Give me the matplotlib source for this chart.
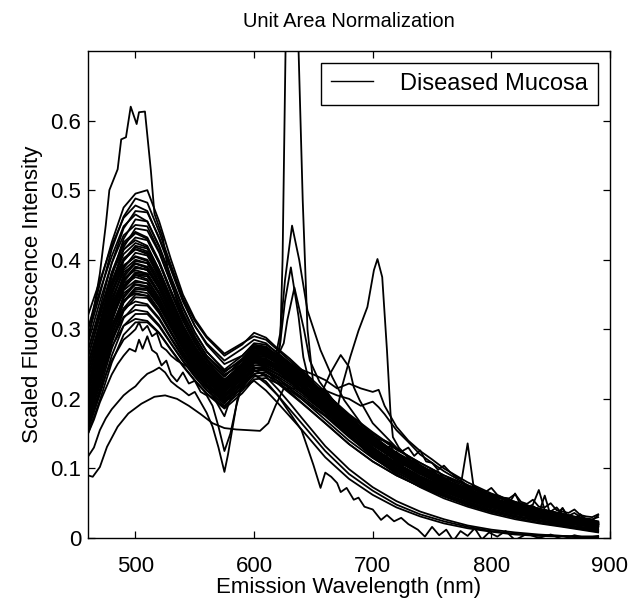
import matplotlib
matplotlib.use("Agg")
import matplotlib.pyplot as plt

plt.rcParams['font.family'] = ['Liberation Sans', 'DejaVu Sans']

# shared wavelength grid (nm) for the bulk of the spectra
wl = [460, 470, 480, 490, 500, 510, 520, 530, 540, 550, 560, 575, 590, 600, 610,
      620, 630, 640, 660, 680, 700, 720, 740, 760, 780, 800, 820, 840, 860, 875, 890]

# bulk spectra, scaled intensity x 1000
s01 = [300, 365, 425, 475, 495, 500, 455, 400, 350, 315, 290, 265, 280, 290, 285, 270, 255, 240, 205, 170, 140, 118, 98, 82, 68, 56, 46, 38, 31, 26, 22]
s02 = [290, 350, 415, 462, 488, 482, 440, 392, 345, 312, 288, 262, 278, 295, 288, 272, 258, 242, 210, 175, 145, 120, 103, 83, 71, 57, 49, 38, 33, 27, 22]
s03 = [320, 370, 420, 460, 478, 470, 430, 385, 340, 305, 280, 255, 272, 285, 280, 265, 250, 235, 200, 168, 138, 115, 95, 79, 65, 54, 44, 36, 30, 25, 20]
s04 = [270, 330, 395, 445, 470, 468, 432, 388, 342, 305, 278, 250, 262, 278, 275, 262, 248, 232, 200, 165, 136, 116, 94, 80, 64, 55, 44, 37, 29, 24, 20]
s05 = [300, 355, 405, 448, 465, 455, 418, 372, 330, 295, 268, 242, 262, 280, 278, 266, 252, 238, 206, 172, 148, 120, 104, 80, 72, 55, 49, 37, 33, 25, 22]
s06 = [250, 310, 375, 430, 458, 455, 420, 375, 332, 296, 268, 240, 255, 272, 270, 258, 244, 230, 198, 163, 134, 111, 92, 76, 63, 52, 43, 35, 28, 23, 19]
s07 = [280, 340, 395, 435, 450, 448, 412, 366, 322, 288, 262, 238, 258, 276, 275, 262, 248, 233, 203, 170, 141, 118, 98, 82, 67, 56, 46, 38, 31, 26, 21]
s08 = [230, 290, 360, 418, 445, 442, 410, 366, 324, 290, 262, 235, 250, 268, 266, 255, 242, 228, 196, 162, 128, 106, 86, 71, 58, 47, 38, 31, 25, 20, 15]
s09 = [260, 320, 382, 425, 440, 432, 398, 356, 316, 283, 258, 232, 255, 274, 272, 260, 246, 232, 202, 168, 140, 117, 97, 81, 67, 55, 45, 37, 30, 25, 20]
s10 = [240, 300, 368, 414, 432, 428, 395, 352, 312, 280, 254, 228, 248, 266, 264, 252, 239, 224, 192, 158, 130, 108, 89, 74, 61, 50, 41, 34, 28, 23, 18]
s11 = [270, 325, 380, 415, 428, 420, 385, 345, 306, 275, 250, 226, 252, 272, 272, 261, 248, 235, 208, 178, 152, 128, 108, 90, 76, 62, 52, 42, 35, 29, 24]
s12 = [220, 282, 350, 400, 420, 416, 384, 342, 304, 272, 247, 222, 243, 262, 261, 250, 237, 223, 192, 158, 130, 107, 88, 73, 60, 49, 40, 33, 27, 22, 18]
s13 = [250, 305, 365, 402, 415, 408, 376, 337, 300, 270, 246, 222, 248, 268, 268, 257, 245, 232, 203, 170, 142, 119, 95, 86, 66, 59, 44, 40, 29, 27, 20]
s14 = [210, 270, 338, 388, 410, 406, 375, 335, 298, 267, 242, 218, 240, 260, 258, 247, 234, 220, 190, 156, 124, 100, 80, 64, 51, 40, 32, 25, 19, 15, 11]
s15 = [240, 296, 355, 392, 404, 398, 368, 330, 295, 265, 242, 219, 246, 266, 266, 256, 244, 231, 203, 171, 143, 120, 100, 83, 69, 57, 47, 38, 31, 26, 21]
s16 = [200, 262, 330, 378, 398, 395, 366, 328, 293, 263, 240, 216, 238, 258, 256, 246, 233, 220, 190, 157, 129, 107, 88, 73, 60, 49, 40, 33, 27, 22, 18]
s17 = [230, 288, 345, 382, 394, 388, 360, 324, 290, 261, 239, 216, 244, 265, 265, 255, 243, 230, 205, 176, 150, 127, 108, 90, 75, 62, 51, 42, 34, 28, 23]
s18 = [195, 255, 320, 368, 388, 386, 358, 322, 288, 260, 237, 214, 236, 256, 255, 245, 232, 219, 189, 156, 128, 106, 88, 72, 59, 49, 40, 33, 27, 22, 18]
s19 = [220, 278, 336, 373, 385, 380, 353, 318, 285, 257, 235, 213, 242, 263, 264, 254, 242, 229, 201, 169, 142, 119, 99, 83, 69, 57, 47, 38, 31, 26, 21]
s20 = [185, 245, 310, 358, 378, 376, 350, 315, 282, 255, 232, 210, 232, 252, 252, 242, 230, 217, 188, 155, 122, 98, 78, 62, 49, 39, 31, 24, 18, 14, 10]
s21 = [210, 268, 326, 363, 375, 370, 345, 311, 279, 252, 231, 209, 238, 260, 261, 251, 240, 227, 199, 167, 140, 122, 96, 86, 65, 60, 43, 41, 28, 28, 19]
s22 = [178, 236, 300, 348, 368, 366, 342, 309, 277, 250, 228, 206, 228, 248, 248, 239, 227, 214, 186, 154, 126, 104, 86, 71, 58, 48, 39, 32, 26, 21, 17]
s23 = [200, 258, 316, 352, 364, 360, 336, 304, 274, 248, 227, 205, 234, 256, 257, 248, 237, 225, 199, 170, 145, 123, 104, 87, 73, 61, 50, 41, 34, 28, 23]
s24 = [170, 228, 290, 338, 358, 356, 333, 302, 272, 246, 225, 203, 224, 244, 245, 236, 224, 212, 184, 152, 124, 103, 85, 70, 57, 47, 38, 31, 25, 21, 17]
s25 = [195, 250, 306, 342, 352, 348, 326, 296, 268, 243, 222, 201, 230, 252, 254, 245, 234, 222, 195, 164, 137, 115, 96, 80, 66, 54, 44, 36, 30, 25, 20]
s26 = [165, 220, 280, 326, 346, 345, 323, 294, 266, 241, 221, 199, 220, 240, 241, 232, 221, 209, 182, 150, 118, 95, 76, 60, 47, 37, 29, 22, 17, 13, 9]
s27 = [185, 240, 295, 330, 340, 336, 316, 288, 262, 238, 218, 197, 226, 248, 250, 242, 231, 219, 193, 162, 136, 110, 98, 76, 68, 51, 46, 33, 31, 22, 21]
s28 = [160, 214, 272, 316, 335, 334, 314, 286, 259, 236, 216, 195, 216, 236, 238, 229, 218, 206, 180, 149, 122, 101, 83, 68, 56, 46, 37, 30, 25, 20, 16]
s29 = [180, 232, 285, 318, 328, 325, 306, 280, 255, 233, 213, 193, 222, 244, 247, 239, 228, 217, 191, 161, 135, 113, 94, 78, 65, 53, 44, 36, 29, 24, 19]
s30 = [155, 206, 262, 305, 322, 322, 304, 279, 254, 232, 212, 190, 212, 232, 234, 226, 215, 203, 177, 147, 116, 92, 73, 57, 45, 35, 27, 21, 16, 12, 8]
s31 = [175, 225, 275, 305, 315, 312, 295, 271, 248, 227, 208, 188, 218, 240, 243, 235, 225, 214, 189, 159, 133, 112, 93, 77, 64, 53, 43, 35, 29, 24, 19]
s32 = [150, 198, 252, 292, 310, 310, 294, 270, 247, 226, 207, 186, 208, 228, 230, 222, 212, 200, 175, 145, 118, 97, 80, 66, 54, 44, 36, 29, 24, 19, 15]

# spectra whose red tail falls off faster (same grid)
f01 = [200, 258, 318, 356, 370, 366, 340, 306, 274, 247, 226, 204, 222, 235, 222, 205, 185, 165, 125, 92, 68, 48, 34, 24, 16, 10, 6, 4, 3, 2, 2]
f02 = [185, 242, 300, 340, 355, 352, 328, 296, 266, 240, 220, 198, 215, 226, 212, 194, 175, 156, 116, 85, 62, 44, 31, 21, 14, 9, 5, 3, 2, 1, 1]
f03 = [215, 272, 330, 366, 378, 372, 345, 310, 278, 250, 229, 207, 228, 242, 232, 214, 194, 173, 132, 99, 73, 53, 38, 27, 18, 12, 8, 5, 3, 2, 2]

# noisy spectra: coarse in the blue, 5 nm steps in the red tail
wl_noisy = [460, 470, 480, 490, 500, 510, 520, 530, 540, 550, 560, 575, 590, 600, 610, 620, 630, 640, 660, 680, 700,
            705, 710, 715, 720, 725, 730, 735, 740, 745, 750, 755, 760, 765, 770, 775, 780, 785, 790, 795,
            800, 805, 810, 815, 820, 825, 830, 835, 840, 845, 850, 855, 860, 865, 870, 875, 880, 885, 890]
n01 = [260, 318, 380, 422, 438, 430, 396, 354, 314, 282, 257, 232, 256, 275, 273, 262, 250, 236, 206, 172, 146,
       142, 140, 136, 128, 125, 130, 118, 126, 110, 108, 98, 104, 95, 88, 84, 136, 74, 70, 66,
       72, 62, 58, 57, 63, 52, 49, 55, 45, 44, 50, 40, 38, 36, 41, 33, 31, 30, 34]
n02 = [230, 290, 352, 398, 418, 412, 380, 340, 302, 272, 248, 224, 246, 266, 265, 254, 242, 228, 198, 165, 138,
       134, 128, 132, 118, 116, 110, 112, 100, 98, 94, 96, 86, 84, 80, 82, 74, 70, 66, 62,
       60, 58, 57, 50, 64, 46, 44, 48, 69, 40, 38, 44, 34, 32, 36, 30, 28, 27, 30]
n03 = [190, 250, 314, 362, 382, 380, 352, 318, 285, 257, 234, 212, 234, 254, 254, 244, 232, 219, 190, 157, 130,
       124, 118, 121, 110, 104, 106, 96, 92, 94, 84, 80, 82, 74, 70, 72, 64, 62, 66, 56,
       52, 55, 48, 46, 44, 47, 40, 38, 36, 61, 32, 30, 43, 27, 25, 34, 22, 21, 23]
n04 = [170, 228, 292, 340, 360, 358, 334, 302, 272, 246, 225, 203, 224, 244, 244, 235, 224, 212, 184, 152, 125,
       118, 112, 108, 104, 98, 94, 90, 84, 82, 78, 72, 70, 64, 62, 58, 60, 52, 50, 46,
       44, 48, 40, 37, 35, 40, 31, 29, 27, 30, 24, 22, 21, 19, 23, 16, 15, 14, 12]
n05 = [250, 305, 368, 408, 424, 418, 385, 345, 306, 276, 251, 227, 250, 270, 269, 258, 245, 231, 200, 166, 138,
       132, 126, 122, 124, 114, 108, 110, 102, 96, 98, 90, 84, 86, 78, 74, 70, 76, 64, 60,
       58, 54, 52, 56, 48, 45, 43, 46, 40, 38, 36, 34, 43, 30, 28, 34, 26, 25, 33]

# individual spectra read point by point (intensity as read)
wl_high = [460, 465, 470, 475, 478, 485, 488, 492, 496, 501, 503, 508, 513, 516, 523, 527, 535, 545, 555, 565,
           575, 590, 600, 610, 620, 630, 640, 660, 680, 700, 720, 740, 760, 780, 800, 820, 840, 860, 875, 890]
high = [.28, .33, .38, .45, .50, .53, .573, .576, .62, .595, .612, .613, .528, .466, .432, .39, .34, .30, .27, .245,
        .225, .235, .245, .24, .225, .21, .195, .165, .135, .11, .09, .074, .06, .048, .039, .031, .025, .02, .016, .013]

wl_spike = [460, 470, 480, 490, 500, 510, 520, 530, 540, 550, 560, 575, 590, 600, 610, 618, 622, 624, 626.5, 630,
            634, 637.5, 641, 645, 650, 660, 680, 700, 720, 740, 760, 780, 800, 820, 840, 860, 875, 890]
spike = [.21, .27, .33, .37, .39, .385, .36, .325, .29, .26, .238, .213, .238, .255, .25, .245, .28, .40, .70, 1.17,
         .92, .70, .485, .30, .22, .19, .155, .125, .10, .082, .067, .055, .045, .036, .029, .024, .02, .017]

wl_p45 = [460, 470, 480, 490, 500, 510, 520, 530, 540, 550, 560, 575, 590, 600, 610, 618, 622, 626, 632, 638,
          645, 656, 666, 676, 690, 700, 720, 740, 760, 780, 800, 820, 840, 860, 875, 890]
p45 = [.24, .30, .36, .40, .415, .41, .38, .34, .30, .27, .245, .222, .248, .265, .262, .26, .294, .37, .449, .40,
       .327, .27, .231, .198, .165, .145, .115, .094, .077, .063, .052, .042, .034, .028, .023, .019]

wl_p39 = [460, 470, 480, 490, 500, 510, 520, 530, 540, 550, 560, 575, 590, 600, 610, 618, 622, 626, 631, 637.5,
          641.5, 647, 655, 670, 690, 700, 720, 740, 760, 780, 800, 820, 840, 860, 875, 890]
p39 = [.19, .25, .315, .36, .38, .378, .352, .318, .285, .256, .233, .21, .235, .252, .25, .245, .28, .34, .389, .318,
       .26, .22, .20, .175, .145, .13, .105, .086, .07, .057, .047, .038, .031, .025, .021, .018]

wl_p36 = [460, 470, 480, 490, 500, 510, 520, 530, 540, 550, 560, 575, 590, 600, 610, 618, 625, 628, 634, 642,
          647, 655, 670, 690, 700, 720, 740, 760, 780, 800, 820, 840, 860, 875, 890]
p36 = [.23, .29, .35, .39, .405, .40, .372, .335, .298, .268, .244, .22, .244, .262, .26, .255, .28, .313, .36, .30,
       .255, .225, .19, .155, .138, .112, .092, .075, .061, .05, .041, .033, .027, .022, .019]

wl_hump = [460, 470, 480, 490, 500, 510, 520, 530, 540, 550, 560, 575, 590, 600, 610, 620, 630, 640, 650, 656,
           664, 673, 680, 684, 689, 695, 700, 720, 740, 760, 780, 800, 820, 840, 860, 875, 890]
hump = [.20, .26, .325, .37, .39, .385, .36, .325, .29, .26, .238, .214, .24, .258, .255, .245, .232, .22, .21, .205,
        .236, .263, .246, .217, .198, .18, .165, .13, .105, .085, .068, .055, .045, .036, .029, .024, .02]

wl_p705 = [460, 470, 480, 490, 500, 510, 520, 530, 540, 550, 560, 575, 590, 600, 610, 620, 630, 640, 650, 660,
           670, 674, 681, 688, 695.5, 701, 704, 708, 712, 715, 717, 722, 730, 740, 760, 780, 800, 820, 840, 860, 875, 890]
p705 = [.22, .28, .34, .385, .40, .395, .365, .33, .295, .265, .24, .216, .242, .26, .256, .243, .228, .213, .198, .185,
        .184, .217, .26, .298, .332, .385, .401, .375, .27, .179, .145, .13, .115, .10, .08, .065, .053, .043, .035, .028, .023, .02]

wl_plat = [460, 470, 480, 490, 500, 510, 520, 530, 540, 550, 560, 575, 590, 600, 610, 620, 630, 640, 650, 660,
           670, 680, 690, 700, 705, 710, 720, 730, 740, 750, 760, 780, 800, 820, 840, 860, 875, 890]
plat1 = [.21, .27, .33, .375, .395, .39, .362, .327, .292, .262, .24, .216, .245, .268, .27, .262, .25, .242, .235, .227,
         .215, .222, .215, .21, .213, .19, .16, .14, .125, .113, .10, .08, .064, .052, .042, .034, .028, .023]
plat2 = [.18, .24, .30, .345, .365, .362, .338, .306, .275, .248, .226, .204, .232, .254, .256, .248, .236, .226, .218, .212,
         .205, .20, .19, .196, .188, .178, .155, .138, .12, .108, .096, .076, .061, .05, .04, .033, .027, .022]

wl_low = [460, 464, 470, 476, 485, 494, 505, 516, 525, 535, 545, 555, 565, 575, 585, 595, 605, 612, 618, 625,
          635, 645, 660, 680, 700, 720, 740, 760, 780, 800, 820, 840, 860, 875, 890]
low = [.090, .088, .102, .131, .160, .179, .193, .203, .205, .20, .19, .178, .165, .158, .156, .155, .154, .165, .19, .215,
       .215, .205, .185, .155, .128, .105, .087, .07, .057, .046, .037, .03, .024, .02, .016]

wl_dip = [460, 465, 470, 475, 480, 485, 490, 495, 500, 505, 510, 515, 520, 525, 530, 535, 540, 545, 550, 555,
          560, 565, 570, 575, 578, 582, 586, 590, 595, 600, 610, 620, 630, 640, 660, 680, 700, 720, 740, 760,
          780, 800, 820, 840, 860, 875, 890]
dip = [.117, .13, .155, .172, .185, .195, .205, .212, .218, .228, .236, .24, .245, .238, .225, .218, .212, .205, .21, .195,
       .18, .16, .13, .095, .12, .16, .20, .222, .235, .24, .235, .222, .208, .194, .165, .135, .11, .09, .074, .06,
       .049, .04, .032, .026, .021, .018, .015]

wl_jag = [460, 465, 470, 475, 480, 485, 490, 495, 500, 503, 506, 510, 514, 518, 522, 526, 530, 535, 540, 545,
          550, 555, 560, 565, 570, 575, 580, 585, 590, 595, 600, 610, 620, 630, 640, 660, 680, 700, 720, 740,
          760, 780, 800, 820, 840, 860, 875, 890]
jag1 = [.15, .17, .195, .215, .235, .25, .262, .272, .268, .285, .272, .29, .27, .265, .248, .255, .235, .225, .238, .222,
        .226, .21, .205, .19, .16, .125, .15, .19, .22, .235, .245, .24, .23, .215, .20, .17, .14, .115, .094, .077,
        .063, .052, .042, .034, .028, .022, .019, .016]
jag2 = [.16, .185, .21, .235, .255, .27, .285, .292, .30, .31, .298, .305, .29, .295, .275, .27, .262, .255, .25, .245,
        .238, .232, .22, .205, .19, .175, .20, .225, .245, .255, .26, .255, .24, .225, .21, .18, .148, .12, .098, .08,
        .066, .054, .044, .036, .029, .023, .019, .016]

wl_zero = [460, 470, 480, 490, 500, 510, 520, 530, 540, 550, 560, 575, 590, 600, 610, 620, 630, 640,
           645, 650, 656, 660, 665, 670, 673, 678, 684, 688, 693, 700, 707, 712, 718, 724, 730, 738, 744, 750,
           756, 762, 768, 774, 780, 786, 792, 798, 805, 812, 820, 830, 840, 850, 860, 870, 880, 890]
zero = [.17, .225, .285, .33, .35, .348, .325, .295, .265, .24, .22, .198, .22, .235, .225, .205, .18, .155,
        .13, .105, .072, .094, .088, .079, .066, .072, .055, .058, .045, .041, .026, .033, .024, .029, .02, .012, .002, .016,
        .004, .012, -.004, .01, .003, .014, -.002, .008, .002, .01, -.003, .006, .0, .005, -.002, .004, .0, .003]

bulk = [s01, s02, s03, s04, s05, s06, s07, s08, s09, s10, s11, s12, s13, s14, s15, s16,
        s17, s18, s19, s20, s21, s22, s23, s24, s25, s26, s27, s28, s29, s30, s31, s32, f01, f02, f03]
noisy = [n01, n02, n03, n04, n05]
singles = [(wl_high, high), (wl_spike, spike), (wl_p45, p45), (wl_p39, p39), (wl_p36, p36),
           (wl_hump, hump), (wl_p705, p705), (wl_plat, plat1), (wl_plat, plat2), (wl_low, low),
           (wl_dip, dip), (wl_jag, jag1), (wl_jag, jag2), (wl_zero, zero)]

fig = plt.figure(figsize=(6.31, 6.04), dpi=100)
ax = fig.add_axes([88 / 631, 66 / 604, 522 / 631, 487 / 604])

lw = 1.3
first = True
for s in bulk:
    ax.plot(wl, [v / 1000 for v in s], color='k', lw=lw,
            label='Diseased Mucosa' if first else None)
    first = False
for s in noisy:
    ax.plot(wl_noisy, [v / 1000 for v in s], color='k', lw=lw)
for x, y in singles:
    ax.plot(x, y, color='k', lw=lw)

ax.set_xlim(460, 900)
ax.set_ylim(0, 0.7)
ax.set_xticks([500, 600, 700, 800, 900])
ax.set_yticks([0, 0.1, 0.2, 0.3, 0.4, 0.5, 0.6])
ax.set_yticklabels(['0', '0.1', '0.2', '0.3', '0.4', '0.5', '0.6'])
ax.tick_params(direction='in', top=True, right=True, length=5, width=0.9,
               labelsize=16)
ax.tick_params(axis='x', pad=13)
ax.tick_params(axis='y', pad=5)
for sp in ax.spines.values():
    sp.set_linewidth(1.0)

ax.set_title('Unit Area Normalization', fontsize=14.5, pad=17.5)
ax.set_xlabel('Emission Wavelength (nm)', fontsize=16, labelpad=0)
ax.set_ylabel('Scaled Fluorescence Intensity', fontsize=16, labelpad=5)

leg = ax.legend(loc='upper right', fontsize=17, fancybox=False, framealpha=1,
                edgecolor='k', handlelength=1.8, handletextpad=1.15,
                borderaxespad=0.5, borderpad=0.42)
leg.get_frame().set_linewidth(1.0)
for line in leg.get_lines():
    line.set_linewidth(1.0)

fig.savefig('out.png', dpi=100)
